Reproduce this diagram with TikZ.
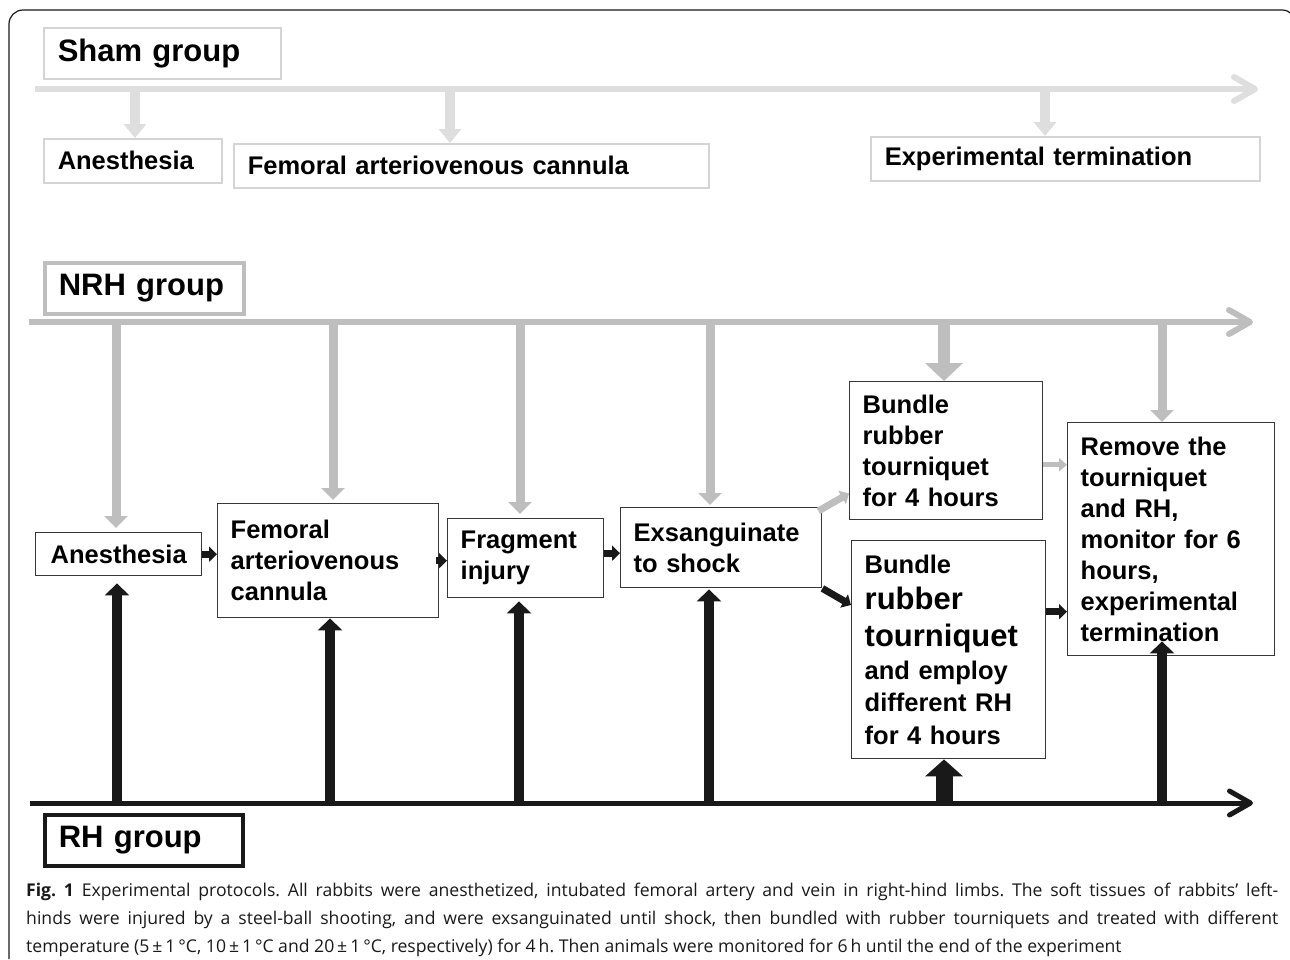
\documentclass[tikz,border=0pt]{standalone}
\usepackage{fontspec}
\setmainfont{Liberation Sans}
\newfontfamily\capfont{Open Sans}
\usetikzlibrary{arrows.meta,positioning}
\definecolor{ink}{RGB}{25,25,25}
\definecolor{boxline}{RGB}{55,55,55}
\definecolor{nrhgray}{RGB}{190,190,190}
\definecolor{shamgray}{RGB}{222,222,222}
\definecolor{shamline}{RGB}{212,212,212}
\newcommand\boxfont{\fontsize{25.5}{31}\selectfont\bfseries}
\newcommand\titlefont{\fontsize{31}{36}\selectfont\bfseries}
\newcommand\bigfont{\fontsize{31}{37}\selectfont}
\newcommand\captionfont{\capfont\fontsize{17.6}{20}\selectfont\frenchspacing}
\begin{document}
\begin{tikzpicture}
[x=1pt,y=-1pt,
  stepbox/.style={draw=boxline,line width=1.4pt,anchor=north west,inner xsep=13pt,inner ysep=0pt,align=left,font=\boxfont},
  shambox/.style={draw=shamline,line width=1.5pt,anchor=north west,inner xsep=14pt,inner ysep=0pt,align=left,minimum height=44pt,font=\boxfont},
  titlebox/.style={anchor=north west,inner xsep=14pt,inner ysep=0pt,align=left,minimum height=51pt,font=\titlefont},
  timeline/.style={line width=#1,-{Straight Barb[length=21pt,width=24pt,round]}},
  shamdrop/.style={draw=shamgray,line width=10pt,-{Triangle[length=14pt,width=22pt]}},
  nrhdrop/.style={draw=nrhgray,line width=9pt,-{Triangle[length=12pt,width=23pt]}},
  rhrise/.style={draw=ink,line width=10pt,-{Triangle[length=12pt,width=24pt]}},
  linkarrow/.style={line width=7pt,-{Triangle[length=8pt,width=15pt]}}]
\useasboundingbox (0,0) rectangle (1290,959);
%% frame
\draw[ink,line width=1.2pt,rounded corners=14pt] (9,959) -- (9,10) -- (1296,10) -- (1296,959);
%% sham group
\node[titlebox,draw=shamline,line width=1.5pt,text width=209pt] (shamtitle) at (43,27) {Sham group};
\coordinate (shamstart) at (35,89);
\coordinate (shamend) at (1258,89);
\draw[timeline=6pt,draw=shamgray] (shamstart) -- (shamend);
\node[shambox,text width=150pt] (sAnes) at (43,138) {Anesthesia};
\node[shambox,text width=447pt] (sFem) at (233,143) {Femoral arteriovenous cannula};
\node[shambox,text width=361pt] (sExp) at (870,136) {Experimental termination};
\foreach \px/\target in {135/sAnes, 450/sFem, 1045/sExp} {
  \draw[shamdrop] (\px,89) -- (\px,89 |- \target.north);
}
%% NRH group
\node[titlebox,draw=nrhgray,line width=3.5pt,text width=171pt] (nrhtitle) at (43,261) {NRH group};
\coordinate (nrhstart) at (29,322);
\coordinate (nrhend) at (1253,322);
\draw[timeline=6pt,draw=nrhgray] (nrhstart) -- (nrhend);
%% steps
\node[stepbox,align=center,text width=140pt,minimum height=43pt] (anes) at (35,532) {Anesthesia};
\node[stepbox,text width=195pt,minimum height=114pt] (fem) at (217,503) {Femoral\\ arteriovenous\\ cannula};
\node[stepbox,text width=130pt,minimum height=79pt] (frag) at (447,518) {Fragment\\ injury};
\node[stepbox,text width=175pt,minimum height=80pt] (exs) at (620,507) {Exsanguinate\\ to shock};
\node[stepbox,text width=167pt,minimum height=138pt] (bunA) at (849,381) {Bundle\\ rubber\\ tourniquet\\ for 4 hours};
\node[stepbox,text width=168pt,minimum height=218pt,font=\fontsize{25.5}{32.5}\selectfont\bfseries] (bunB) at (851,540)
  {Bundle\\[3.5pt] {\bigfont rubber}\\[4.5pt] {\bigfont tourniquet}\\ and employ\\ different RH\\ for 4 hours};
\node[stepbox,text width=181pt,minimum height=233pt] (rem) at (1067,422)
  {Remove the\\ tourniquet\\ and RH,\\ monitor for 6\\ hours,\\ experimental\\ termination};
\foreach \px/\target/\gap in {116/anes/4pt, 333/fem/3pt, 520/frag/4pt, 710/exs/2pt, 1162/rem/0pt} {
  \draw[nrhdrop,shorten >=\gap] (\px,322) -- (\px,322 |- \target.north);
}
\draw[nrhdrop,line width=12pt,-{Triangle[length=18pt,width=37pt]}] (944,322) -- (944,322 |- bunA.north);
%% links between steps
\draw[linkarrow,draw=ink] (anes.east) -- (anes.east -| fem.west);
\draw[linkarrow,draw=ink] ([xshift=-3pt]fem.east) -- (fem.east -| frag.west);
\draw[linkarrow,draw=ink] ([yshift=5pt]frag.east) -- ([yshift=5pt]frag.east -| exs.west);
\draw[linkarrow,draw=nrhgray] ([xshift=-4pt,yshift=-4pt]exs.north east) -- ([yshift=27pt]bunA.south west);
\draw[linkarrow,draw=ink] (exs.south east) -- ([yshift=-65pt]bunB.north west);
\draw[linkarrow,line width=5pt,draw=nrhgray,-{Triangle[length=8pt,width=13pt]}] ([yshift=-14pt]bunA.east) -- ([yshift=-14pt]bunA.east -| rem.west);
\draw[linkarrow,draw=ink] ([yshift=38pt]bunB.east) -- ([yshift=38pt]bunB.east -| rem.west);
%% RH group
\coordinate (rhstart) at (30,803);
\coordinate (rhend) at (1253,803);
\draw[timeline=5pt,draw=ink] (rhstart) -- (rhend);
\foreach \px/\target/\gap in {117/anes/7pt, 330/fem/0pt, 519/frag/3pt, 709/exs/1pt, 1162/rem/-15pt} {
  \draw[rhrise,shorten >=\gap] (\px,803) -- (\px,803 |- \target.south);
}
\draw[rhrise,line width=17pt,-{Triangle[length=17pt,width=37pt]}] (944,803) -- (944,803 |- bunB.south);
\node[titlebox,draw=ink,line width=3.5pt,text width=170pt] (rhtitle) at (43,813) {RH group};
%% caption
\node[anchor=base west,inner sep=0pt,font=\captionfont,text=ink] (capA) at (26,896)
  {\makebox[1252pt][s]{{\bfseries Fig. 1} Experimental protocols. All rabbits were anesthetized, intubated femoral artery and vein in right-hind limbs. The soft tissues of rabbits’ left-}};
\node[anchor=base west,inner sep=0pt,font=\captionfont,text=ink] (capB) at (26,924)
  {\makebox[1252pt][s]{hinds were injured by a steel-ball shooting, and were exsanguinated until shock, then bundled with rubber tourniquets and treated with different}};
\node[anchor=base west,inner sep=0pt,font=\captionfont,text=ink] (capC) at (26,952)
  {temperature (5\,±\,1\,°C, 10\,±\,1\,°C and 20\,±\,1\,°C, respectively) for 4\,h. Then animals were monitored for 6\,h until the end of the experiment};
\end{tikzpicture}
\end{document}
